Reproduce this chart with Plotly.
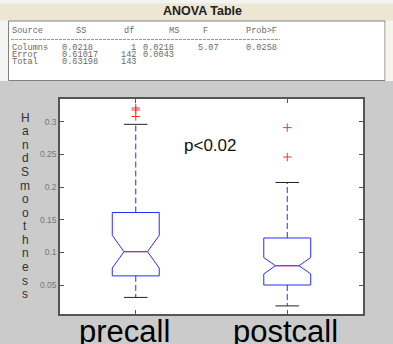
import plotly.graph_objects as go

# ---------------- data ----------------
groups = ["precall", "postcall"]
group_x = [1, 2]
q1 = [0.064, 0.050]
median = [0.101, 0.0795]
q3 = [0.161, 0.122]
lower_whisker = [0.031, 0.018]
upper_whisker = [0.296, 0.207]
notch_span = [0.025, 0.0125]
outliers_pre = [0.308, 0.318, 0.321]
outliers_post = [0.246, 0.291]
y_ticks = [0.05, 0.1, 0.15, 0.2, 0.25, 0.3]
y_tick_text = ["0.05", "0.1", "0.15", "0.2", "0.25", "0.3"]

anova_header = ["Source", "SS", "df", "MS", "F", "Prob>F"]
anova_source = ["Columns", "Error", "Total"]
anova_ss = ["0.0218", "0.61017", "0.63198"]
anova_df = ["1", "142", "143"]
anova_ms = ["0.0218", "0.0043", ""]
anova_f = ["5.07", "", ""]
anova_prob = ["0.0258", "", ""]

y_label = "HandSmoothness"
p_text = "p<0.02"

# ---------------- layout helpers ----------------
W, H = 393, 344
def px(x):
    return x / W
def py(y):
    return 1 - y / H

BOX_W = 0.31
NOTCH_W = 0.25
half_inner = BOX_W * (1 - 2 * NOTCH_W) / 2
BLUE = "#2a2aff"

fig = go.Figure()

fig.add_trace(go.Box(
    x=group_x, q1=q1, median=median, q3=q3,
    lowerfence=q1, upperfence=q3,
    notched=True, notchspan=notch_span, notchwidth=NOTCH_W,
    width=BOX_W, whiskerwidth=0, boxpoints=False,
    line=dict(color=BLUE, width=1), fillcolor="rgba(0,0,0,0)",
    showlegend=False, hoverinfo="skip"))

# whiskers (dashed blue), caps (black), median (red)
wx, wy, cx, cy, mx, my = [], [], [], [], [], []
for xc, a, b, lo, hi, m in zip(group_x, q1, q3, lower_whisker, upper_whisker, median):
    wx += [xc, xc, None, xc, xc, None]
    wy += [b, hi, None, a, lo, None]
    cx += [xc - half_inner, xc + half_inner, None, xc - half_inner, xc + half_inner, None]
    cy += [hi, hi, None, lo, lo, None]
    mx += [xc - half_inner, xc + half_inner, None]
    my += [m, m, None]
fig.add_trace(go.Scatter(x=wx, y=wy, mode="lines", line=dict(color=BLUE, width=1, dash="6px,3px"),
                         showlegend=False, hoverinfo="skip"))
fig.add_trace(go.Scatter(x=cx, y=cy, mode="lines", line=dict(color="#222", width=1),
                         showlegend=False, hoverinfo="skip"))
fig.add_trace(go.Scatter(x=mx, y=my, mode="lines", line=dict(color="#ff2020", width=1),
                         showlegend=False, hoverinfo="skip"))
ox = [group_x[0]] * len(outliers_pre) + [group_x[1]] * len(outliers_post)
oy = outliers_pre + outliers_post
fig.add_trace(go.Scatter(x=ox, y=oy, mode="markers",
                         marker=dict(symbol="cross-thin", size=6, line=dict(color="#ff3030", width=1)),
                         showlegend=False, hoverinfo="skip"))

shapes = [
    dict(type="rect", xref="paper", yref="paper", x0=0, x1=1, y0=py(81), y1=1,
         fillcolor="#f3f3f1", line=dict(width=0), layer="below"),
    dict(type="rect", xref="paper", yref="paper", x0=0, x1=1, y0=py(20.5), y1=py(3.5),
         fillcolor="#ece6d2", line=dict(width=0), layer="below"),
    dict(type="rect", xref="paper", yref="paper", x0=px(8.5), x1=px(385), y0=py(80.5), y1=py(21),
         fillcolor="white", line=dict(color="#808080", width=1), layer="below"),
    dict(type="rect", xref="paper", yref="paper", x0=px(385.5), x1=1, y0=py(80.5), y1=py(22),
         fillcolor="#f6f5ea", line=dict(width=0), layer="below"),
    dict(type="line", xref="paper", yref="paper", x0=px(11), x1=px(280), y0=py(39.5), y1=py(39.5),
         line=dict(color="#9a9a9a", width=1, dash="3px,1px")),
]

annotations = []
def ann(text, x, y, size, color, xanchor="left", family="Liberation Mono", bold=False, pad=1):
    annotations.append(dict(text=("<b>%s</b>" % text) if bold else text,
                            x=px(x), y=py(y), xref="paper", yref="paper",
                            xanchor=xanchor, yanchor="middle", showarrow=False, borderpad=pad,
                            font=dict(family=family, size=size, color=color)))

ann("ANOVA Table", 202, 11.5, 12.5, "#222", xanchor="center", family="Liberation Sans", bold=True)

TC = "#6a6a6a"
FS = 8.6
header_x = [11, 75, 123, 168, 202, 245]
for h, xh in zip(anova_header, header_x):
    ann(h, xh, 31, FS, TC, pad=0)
row_y = [47.6, 55, 62.4]
for i, yy in enumerate(row_y):
    ann(anova_source[i], 11, yy, FS, TC, pad=0)
    ann(anova_ss[i], 61, yy, FS, TC, pad=0)
    if anova_df[i]:
        ann(anova_df[i], 137, yy, FS, TC, xanchor="right", pad=0)
    if anova_ms[i]:
        ann(anova_ms[i], 142, yy, FS, TC, pad=0)
    if anova_f[i]:
        ann(anova_f[i], 197, yy, FS, TC, pad=0)
    if anova_prob[i]:
        ann(anova_prob[i], 245, yy, FS, TC, pad=0)

# stacked y label
for k, ch in enumerate(y_label):
    ann(ch, 25, 117.8 + k * 13.56, 12, "#333", xanchor="center", family="Liberation Sans", pad=0)

ann(p_text, 210, 145, 17, "#111", xanchor="center", family="Liberation Sans")
ann(groups[0], 124.7, 331, 31, "#000", xanchor="center", family="Liberation Sans", pad=0)
ann(groups[1], 285, 331, 31, "#000", xanchor="center", family="Liberation Sans", pad=0)

fig.update_layout(
    width=W, height=H, margin=dict(l=0, r=0, t=0, b=0),
    paper_bgcolor="#cbcbcb", plot_bgcolor="white",
    shapes=shapes, annotations=annotations,
    xaxis=dict(domain=[px(60), px(363)], range=[0.5, 2.5], tickvals=group_x,
               showticklabels=False, ticks="inside", ticklen=4, tickcolor="#555",
               showline=True, linecolor="#555", linewidth=1.5, mirror="ticks",
               showgrid=False, zeroline=False),
    yaxis=dict(domain=[py(314), py(99)], range=[0.0056, 0.3348], tickvals=y_ticks,
               ticktext=y_tick_text, ticks="inside", ticklen=4, tickcolor="#555",
               tickfont=dict(family="Liberation Sans", size=8.5, color="#777"),
               showline=True, linecolor="#555", linewidth=1.5, mirror="ticks",
               showgrid=False, zeroline=False),
)

fig.write_html("out.html")
